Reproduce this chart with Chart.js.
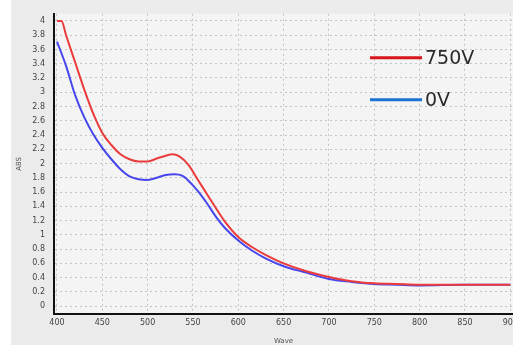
<!DOCTYPE html>
<html>
<head>
<meta charset="utf-8">
<script src="https://cdn.jsdelivr.net/npm/chart.js@4.4.1/dist/chart.umd.min.js"></script>
<style>
  html, body { margin: 0; padding: 0; background: #ffffff; overflow: hidden; }
  #wrap {
    position: absolute; left: 11px; top: 0;
    width: 502px; height: 345px;
    overflow: hidden; background: #ebebeb;
  }
  canvas { display: block; }
</style>
</head>
<body>
<div id="wrap"><canvas id="chart" width="530" height="345"></canvas></div>
<script>
// absorbance spectra
const wave750 = [400, 405, 410, 420, 430, 440, 450, 460, 470, 480, 490, 500, 510, 520, 527, 535, 545, 555, 565, 575, 585, 600, 615, 630, 650, 675, 700, 725, 750, 775, 800, 850, 900];
const abs750  = [4.00, 4.00, 3.80, 3.42, 3.04, 2.70, 2.43, 2.26, 2.13, 2.06, 2.03, 2.03, 2.07, 2.11, 2.13, 2.10, 1.98, 1.78, 1.58, 1.38, 1.19, 0.97, 0.83, 0.72, 0.60, 0.49, 0.41, 0.35, 0.32, 0.31, 0.30, 0.30, 0.30];

const wave0 = [400, 410, 420, 430, 440, 450, 460, 470, 480, 490, 500, 510, 520, 530, 538, 545, 555, 565, 575, 585, 600, 615, 630, 650, 675, 700, 725, 750, 775, 800, 850, 900];
const abs0  = [3.71, 3.37, 2.96, 2.65, 2.41, 2.22, 2.06, 1.92, 1.82, 1.78, 1.77, 1.80, 1.84, 1.85, 1.83, 1.76, 1.62, 1.45, 1.26, 1.10, 0.92, 0.78, 0.67, 0.56, 0.47, 0.38, 0.34, 0.31, 0.30, 0.29, 0.30, 0.30];

const xTicks = [400, 450, 500, 550, 600, 650, 700, 750, 800, 850, 900];
const yTicks = [0, 0.2, 0.4, 0.6, 0.8, 1, 1.2, 1.4, 1.6, 1.8, 2, 2.2, 2.4, 2.6, 2.8, 3, 3.2, 3.4, 3.6, 3.8, 4];

const legendItems = [
  { label: '750V', color: '#d8161c' },
  { label: '0V', color: '#1a72d4' }
];

function toPoints(xs, ys) {
  return xs.map((x, i) => ({ x, y: ys[i] }));
}

const plotBg = {
  id: 'plotBg',
  beforeDraw(chart) {
    const { ctx, chartArea: a } = chart;
    ctx.save();
    ctx.fillStyle = '#f4f4f4';
    ctx.fillRect(a.left, a.top, a.right - a.left, a.bottom - a.top);
    ctx.restore();
  }
};

// legend drawn inside the plot, top right
const innerLegend = {
  id: 'innerLegend',
  afterDraw(chart) {
    const { ctx, chartArea: a } = chart;
    ctx.save();
    ctx.font = '19px "DejaVu Sans", sans-serif';
    ctx.textBaseline = 'middle';
    legendItems.forEach((it, i) => {
      const y = a.top + 44 + i * 42;
      const x0 = a.left + 316;
      ctx.strokeStyle = it.color;
      ctx.lineWidth = 3;
      ctx.beginPath();
      ctx.moveTo(x0, y);
      ctx.lineTo(x0 + 52, y);
      ctx.stroke();
      ctx.fillStyle = '#2a2a2a';
      ctx.fillText(it.label, x0 + 55, y + 1);
    });
    ctx.restore();
  }
};

const tickFont = { family: 'DejaVu Sans', size: 8 };

new Chart(document.getElementById('chart').getContext('2d'), {
  type: 'line',
  data: {
    datasets: [
      {
        label: '750V',
        data: toPoints(wave750, abs750),
        borderColor: '#ea3c3c',
        borderWidth: 2,
        pointRadius: 0,
        cubicInterpolationMode: 'monotone'
      },
      {
        label: '0V',
        data: toPoints(wave0, abs0),
        borderColor: '#4646ec',
        borderWidth: 2,
        pointRadius: 0,
        cubicInterpolationMode: 'monotone'
      }
    ]
  },
  options: {
    responsive: false,
    animation: false,
    layout: { padding: { top: 7, right: 28, left: 0, bottom: 0 } },
    plugins: {
      legend: { display: false },
      tooltip: { enabled: false }
    },
    scales: {
      x: {
        type: 'linear',
        min: 396.7,
        max: 903,
        afterBuildTicks: s => { s.ticks = xTicks.map(v => ({ value: v })); },
        afterFit: s => { s.height = 31; },
        ticks: { font: tickFont, color: '#444444', padding: 4, maxRotation: 0 },
        grid: { color: '#c4c4c4', lineWidth: 1, drawTicks: false },
        border: { display: true, color: '#111111', width: 2, dash: [2, 3] },
        title: { display: true, text: 'Wave', font: { family: 'DejaVu Sans', size: 7 }, color: '#555555', padding: { top: 0, bottom: 0 } }
      },
      y: {
        min: -0.11,
        max: 4.1,
        afterBuildTicks: s => { s.ticks = yTicks.map(v => ({ value: v })); },
        afterFit: s => { s.width = 43; },
        ticks: {
          font: tickFont,
          color: '#444444',
          padding: 9,
          callback: v => String(Math.round(v * 10) / 10)
        },
        grid: { color: '#c4c4c4', lineWidth: 1, drawTicks: false },
        border: { display: true, color: '#111111', width: 2, dash: [2, 3] },
        title: { display: true, text: 'ABS', font: { family: 'DejaVu Sans', size: 7 }, color: '#555555', padding: { top: 4, bottom: 0 } }
      }
    }
  },
  plugins: [plotBg, innerLegend]
});
</script>
</body>
</html>
